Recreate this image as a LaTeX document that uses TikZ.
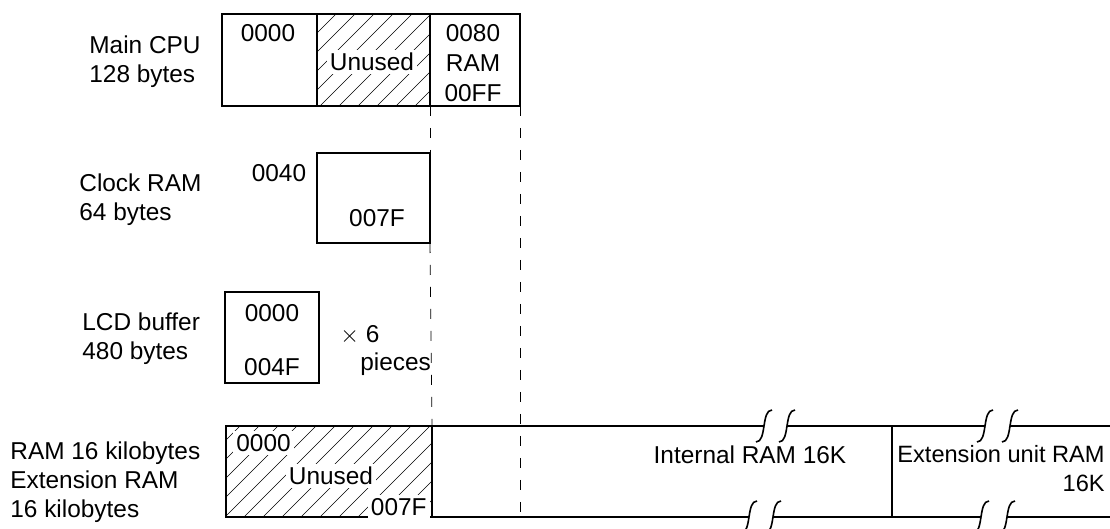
\documentclass[tikz,border=0pt]{standalone}
\usepackage{fontspec}
\setmainfont{Liberation Sans}
\usetikzlibrary{positioning, calc}
\tikzset{
    memline/.style={line width=0.8pt},
    hatchline/.style={line width=0.3pt},
    guide/.style={line width=0.4pt, dash pattern=on 5pt off 6pt},
    lbl/.style={font=\fontsize{12.2}{14.5}\selectfont, inner sep=0pt},
    sidelbl/.style={lbl, align=left, anchor=west},
    knock/.style={lbl, fill=white, inner sep=1.5pt},
    cut/.pic={\draw[memline] (-8,16) .. controls (3,16) and (-3,-16) .. (8,-16);},
}

\begin{document}
\begin{tikzpicture}[x=0.5pt, y=-0.5pt]
    \useasboundingbox (0,0) rectangle (1110,529);
    % side labels
    \node[sidelbl] (cpulbl) at (89,62) {Main CPU\\128 bytes};
    \node[sidelbl] (clklbl) at (79,200) {Clock RAM\\64 bytes};
    \node[sidelbl] (lcdlbl) at (82,339) {LCD buffer\\480 bytes};
    \node[sidelbl] (ramlbl) at (10,482) {RAM 16 kilobytes\\Extension RAM\\16 kilobytes};
    % main CPU area
    \begin{scope}
        \clip (317,14) rectangle (430,106);
        \foreach \k in {0,...,11}
            \draw[hatchline] (225+\k*19,106) -- ++(100,-100);
    \end{scope}
    \draw[memline] (222,14) rectangle (520,106);
    \draw[memline] (317,14) -- (317,106);
    \draw[memline] (430,14) -- (430,106);
    \node[lbl] (cpu0) at (268,33) {0000};
    \node[knock] (cpuun) at (372,62) {Unused};
    \node[lbl] (cpu80) at (473,33) {0080};
    \node[lbl, below=6pt of cpu80] (cpuram) {RAM};
    \node[lbl, below=6pt of cpuram] (cpuff) {00FF};
    \coordinate (cpuA) at (430,106);
    \coordinate (cpuB) at (520,106);
    % clock RAM
    \draw[memline] (317,153) rectangle (430,243);
    \node[lbl] (clk40) at (279,173) {0040};
    \node[lbl] (clk7f) at (377,218) {007F};
    \coordinate (clkT) at (430,153);
    \coordinate (clkB) at (430,243);
    % LCD buffer
    \draw[memline] (225,292) rectangle (319,383);
    \node[lbl] (lcd0) at (272,313) {0000};
    \node[lbl] (lcd4f) at (272,367) {004F};
    \node[lbl, anchor=west] (times) at (340,335) {$\times$ 6};
    \node[lbl, anchor=west] (pieces) at (360,364) {pieces};
    % RAM 16K / extension RAM
    \begin{scope}
        \clip (226,426) rectangle (432,517);
        \foreach \k in {0,...,16}
            \draw[hatchline] (130+\k*19,517) -- ++(100,-100);
    \end{scope}
    \coordinate (ramA) at (432,426);
    \coordinate (ramB) at (520,517);
    \draw[memline] (432,426) -- (226,426) -- (226,517) -- (749,517);
    \draw[memline] (ramA) -- (432,517);
    \draw[memline] (ramA) -- (764,426);
    \draw[memline] (787,426) -- (985,426);
    \draw[memline] (1010,426) -- (1110,426);
    \draw[memline] (773,517) -- (981,517);
    \draw[memline] (1007,517) -- (1110,517);
    \draw[memline] (892,426) -- (892,517);
    \pic at (764,426) {cut};
    \pic at (787,426) {cut};
    \pic at (749,517) {cut};
    \pic at (773,517) {cut};
    \pic at (985,426) {cut};
    \pic at (1010,426) {cut};
    \pic at (981,517) {cut};
    \pic at (1007,517) {cut};
    \node[knock, anchor=west] (ram0) at (233,443) {0000};
    \node[knock] (ramun) at (331,476) {Unused};
    \node[knock, anchor=east] (ram7f) at (430,507) {007F};
    \node[lbl] (intram) at (750,455) {Internal RAM 16K};
    \node[lbl, font=\fontsize{11.8}{14.5}\selectfont, align=right, anchor=north west]
        (extram) at (897,445) {Extension unit RAM\\16K};
    % guide lines
    \draw[guide] (cpuA) -- (clkT);
    \draw[guide] (clkB) -- (ramA);
    \draw[guide] (cpuB) -- (ramB);
\end{tikzpicture}
\end{document}
